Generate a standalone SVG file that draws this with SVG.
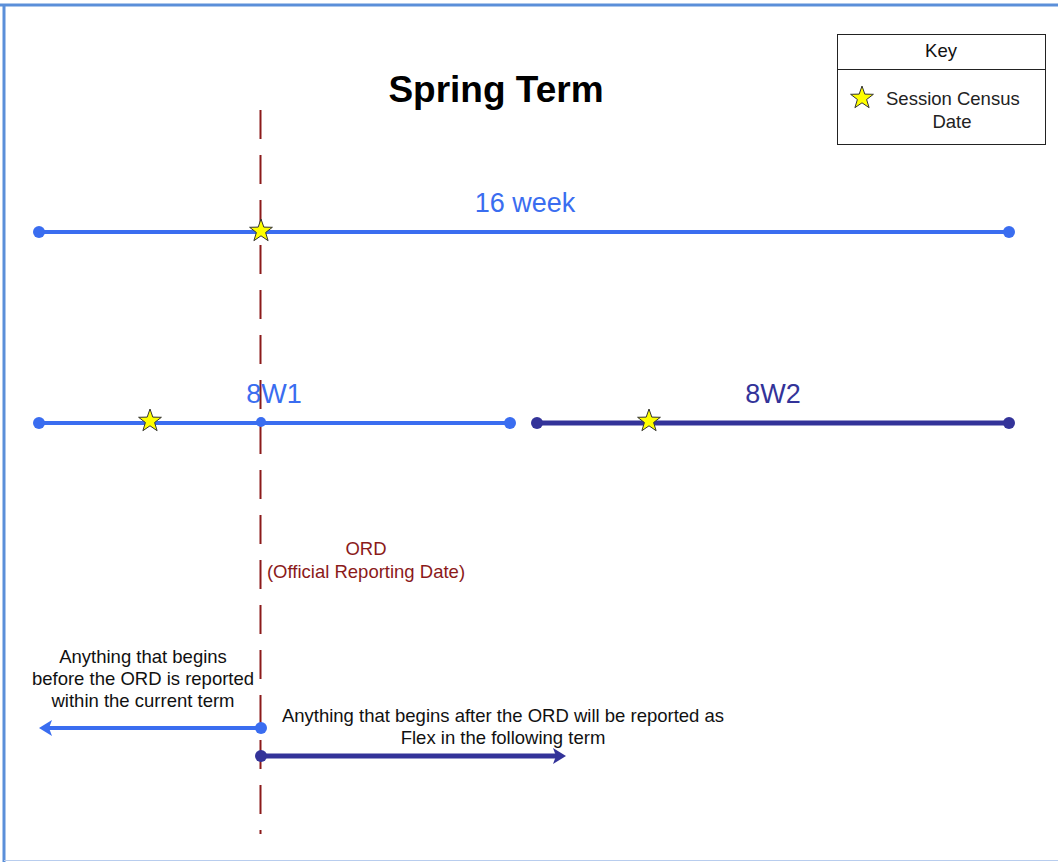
<svg xmlns="http://www.w3.org/2000/svg" width="1058" height="862" viewBox="0 0 1058 862">
<style>
text{font-family:"Liberation Sans",Arial,sans-serif;}
.lb{stroke:#3a6df0;stroke-width:4;fill:none;}
.db{stroke:#333399;stroke-width:5;fill:none;}
.dotl{fill:#3a6df0;}
.dotd{fill:#333399;}
.star{fill:#ffff00;stroke:#333;stroke-width:1;}
.t16{font-size:18.5px;fill:#111;text-anchor:middle;}
</style>
<defs>
<polygon id="st" points="0,-12 2.8,-3.9 11.4,-3.7 4.6,1.5 7.1,9.7 0,4.8 -7.1,9.7 -4.6,1.5 -11.4,-3.7 -2.8,-3.9"/>
</defs>
<rect width="1058" height="862" fill="#fff"/>
<line x1="0" y1="5" x2="1058" y2="5" stroke="#5b8fd9" stroke-width="3"/>
<line x1="4" y1="4" x2="4" y2="862" stroke="#5b8fd9" stroke-width="3"/>
<line x1="4" y1="860.5" x2="1058" y2="860.5" stroke="#b8cdee" stroke-width="1"/>

<g id="title"><text x="496" y="102" font-size="37" font-weight="bold" text-anchor="middle" fill="#000">Spring Term</text></g>

<g id="key">
<rect x="837.5" y="34.5" width="208" height="110" fill="#fff" stroke="#222" stroke-width="1"/>
<line x1="837.5" y1="69.5" x2="1045.5" y2="69.5" stroke="#222" stroke-width="1"/>
<text x="941" y="57" class="t16">Key</text>
<use href="#st" x="862" y="98" class="star"/>
<text x="886" y="105" font-size="18.5" fill="#222">Session Census</text>
<text x="952" y="128" font-size="18.5" fill="#222" text-anchor="middle">Date</text>
</g>

<g id="ord-line"><line x1="260.5" y1="110" x2="260.5" y2="834" stroke="#8b1a1a" stroke-width="2" stroke-dasharray="29 16"/></g>

<g id="connectors">
<g id="w16">
<line x1="39" y1="232" x2="1009" y2="232" class="lb"/>
<circle cx="39" cy="232" r="6" class="dotl"/>
<circle cx="1009" cy="232" r="6" class="dotl"/>
</g>
<g id="w8a">
<line x1="39" y1="423" x2="510" y2="423" class="lb"/>
<circle cx="39" cy="423" r="6" class="dotl"/>
<circle cx="510" cy="423" r="6" class="dotl"/>
<circle cx="261" cy="422" r="5" class="dotl"/>
</g>
<g id="w8b">
<line x1="537" y1="423" x2="1009" y2="423" class="db"/>
<circle cx="537" cy="423" r="6" class="dotd"/>
<circle cx="1009" cy="423" r="6" class="dotd"/>
</g>
<g id="arrow-left">
<line x1="261" y1="728" x2="48" y2="728" class="lb"/>
<polygon points="39,728 52,720 49,728 52,736" fill="#3a6df0"/>
<circle cx="261" cy="728" r="6" class="dotl"/>
</g>
<g id="arrow-right">
<line x1="261" y1="756" x2="556" y2="756" class="db" stroke-width="4"/>
<polygon points="566,756 553,748 556,756 553,764" fill="#333399"/>
<circle cx="261" cy="756" r="6" class="dotd"/>
</g>
</g>

<g id="stars">
<use href="#st" x="261" y="231" class="star"/>
<use href="#st" x="150" y="421" class="star"/>
<use href="#st" x="649" y="421" class="star"/>
</g>

<g id="labels">
<text x="525" y="212" font-size="27" fill="#3a6df0" text-anchor="middle">16 week</text>
<text x="274" y="403" font-size="27" fill="#3a6df0" text-anchor="middle">8W1</text>
<text x="773" y="403" font-size="27" fill="#333399" text-anchor="middle">8W2</text>
<text x="366" y="555" font-size="18.5" fill="#8b1a1a" text-anchor="middle">ORD</text>
<text x="366" y="578" font-size="18.5" fill="#8b1a1a" text-anchor="middle">(Official Reporting Date)</text>
<text x="143" y="663" class="t16">Anything that begins</text>
<text x="143" y="685" class="t16">before the ORD is reported</text>
<text x="143" y="707" class="t16">within the current term</text>
<text x="503" y="722" class="t16">Anything that begins after the ORD will be reported as</text>
<text x="503" y="744" class="t16">Flex in the following term</text>
</g>
</svg>
